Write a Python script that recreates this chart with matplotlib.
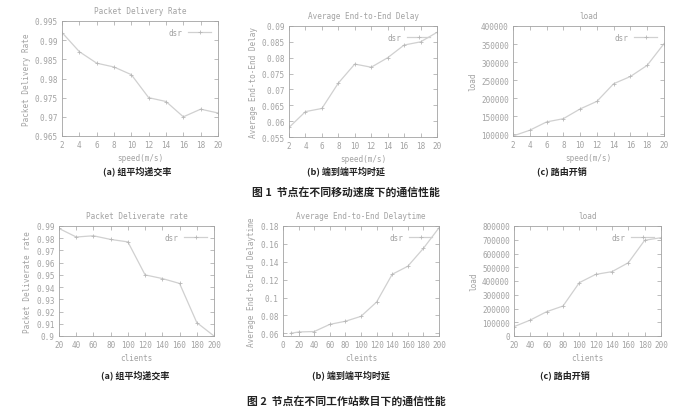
import matplotlib
matplotlib.use("Agg")
from matplotlib import pyplot as plt
from matplotlib.ticker import FuncFormatter, MultipleLocator

# figure 1: node speed
speed = [2, 4, 6, 8, 10, 12, 14, 16, 18, 20]
pdr_speed = [0.992, 0.987, 0.984, 0.983, 0.981, 0.975, 0.974, 0.970, 0.972, 0.971]
delay_speed = [0.058, 0.063, 0.064, 0.072, 0.078, 0.077, 0.080, 0.084, 0.085, 0.088]
load_speed = [95000, 111000, 134000, 143000, 170000, 191000, 240000, 260000, 291000, 351000]

# figure 2: number of clients
clients = [20, 40, 60, 80, 100, 120, 140, 160, 180, 200]
pdr_clients = [0.988, 0.981, 0.982, 0.979, 0.977, 0.950, 0.947, 0.943, 0.911, 0.900]
delay_clients_x = [10, 20, 40, 60, 80, 100, 120, 140, 160, 180, 200]
delay_clients = [0.060, 0.0615, 0.062, 0.070, 0.0735, 0.079, 0.095, 0.126, 0.135, 0.155, 0.178]
load_clients = [68000, 116000, 177000, 218000, 388000, 448000, 468000, 533000, 696000, 715000]

sub_captions = ["(a) 组平均递交率", "(b) 端到端平均时延", "(c) 路由开销"]
fig_captions = ["图 1  节点在不同移动速度下的通信性能", "图 2  节点在不同工作站数目下的通信性能"]

W, H = 697, 410
GRAY = "#a2a2a2"
LINE = "#d0d0d0"
MONO = "DejaVu Sans Mono"

fig = plt.figure(figsize=(W / 100, H / 100), dpi=100)


def make_axes(x0, y0, x1, y1):
    return fig.add_axes([x0 / W, 1 - y1 / H, (x1 - x0) / W, (y1 - y0) / H])


def style(ax, title, xlabel, ylabel, fmt):
    for s in ax.spines.values():
        s.set_color(GRAY)
        s.set_linewidth(0.6)
    ax.tick_params(direction="in", top=True, right=True, length=3, width=0.5,
                   color=GRAY, labelcolor=GRAY, labelsize=5.5, pad=3)
    for lab in ax.get_xticklabels() + ax.get_yticklabels():
        lab.set_family(MONO)
    ax.yaxis.set_major_formatter(FuncFormatter(fmt))
    ax.set_title(title, fontsize=5.5, color=GRAY, family=MONO, pad=6)
    ax.set_xlabel(xlabel, fontsize=5.5, color=GRAY, family=MONO, labelpad=3)
    ax.set_ylabel(ylabel, fontsize=5.5, color=GRAY, family=MONO, labelpad=3)
    leg = ax.legend(loc="upper right", frameon=False, markerfirst=False,
                    handlelength=3, fontsize=5.5, borderaxespad=0.5)
    for t in leg.get_texts():
        t.set_color(GRAY)
        t.set_family(MONO)


g_fmt = lambda v, p: "%g" % round(v, 4)
i_fmt = lambda v, p: "%d" % round(v)

plot_kw = dict(color=LINE, lw=0.9, marker="+", ms=3, mew=0.6, mec="#b8b8b8", label="dsr")

# row 1
ax = make_axes(62, 22, 218, 137)
ax.plot(speed, pdr_speed, **plot_kw)
ax.set_xlim(2, 20); ax.set_ylim(0.965, 0.995)
ax.xaxis.set_major_locator(MultipleLocator(2)); ax.yaxis.set_major_locator(MultipleLocator(0.005))
style(ax, "Packet Delivery Rate", "speed(m/s)", "Packet Delivery Rate", g_fmt)

ax = make_axes(289, 27, 437, 138)
ax.plot(speed, delay_speed, **plot_kw)
ax.set_xlim(2, 20); ax.set_ylim(0.055, 0.09)
ax.xaxis.set_major_locator(MultipleLocator(2)); ax.yaxis.set_major_locator(MultipleLocator(0.005))
style(ax, "Average End-to-End Delay", "speed(m/s)", "Average End-to-End Delay", g_fmt)

ax = make_axes(513, 27, 664, 137)
ax.plot(speed, load_speed, **plot_kw)
ax.set_xlim(2, 20); ax.set_ylim(95000, 400000)
ax.xaxis.set_major_locator(MultipleLocator(2)); ax.yaxis.set_major_locator(MultipleLocator(50000))
style(ax, "load", "speed(m/s)", "load", i_fmt)

# row 2
ax = make_axes(59, 227, 214, 337)
ax.plot(clients, pdr_clients, **plot_kw)
ax.set_xlim(20, 200); ax.set_ylim(0.9, 0.99)
ax.xaxis.set_major_locator(MultipleLocator(20)); ax.yaxis.set_major_locator(MultipleLocator(0.01))
style(ax, "Packet Deliverate rate", "clients", "Packet Deliverate rate", g_fmt)

ax = make_axes(283, 227, 439, 337)
ax.plot(delay_clients_x, delay_clients, **plot_kw)
ax.set_xlim(0, 200); ax.set_ylim(0.057, 0.18)
ax.xaxis.set_major_locator(MultipleLocator(20)); ax.yaxis.set_major_locator(MultipleLocator(0.02))
style(ax, "Average End-to-End Delaytime", "cleints", "Average End-to-End Delaytime", g_fmt)

ax = make_axes(514, 227, 661, 337)
ax.plot(clients, load_clients, **plot_kw)
ax.set_xlim(20, 200); ax.set_ylim(0, 800000)
ax.xaxis.set_major_locator(MultipleLocator(20)); ax.yaxis.set_major_locator(MultipleLocator(100000))
style(ax, "load", "clients", "load", i_fmt)

# captions
cjk = ["Noto Sans CJK SC", "DejaVu Sans"]
for cx, cy, txt in [(137, 171, sub_captions[0]), (346, 171, sub_captions[1]), (562, 171, sub_captions[2]),
                    (135, 375, sub_captions[0]), (351, 375, sub_captions[1]), (565, 375, sub_captions[2])]:
    fig.text(cx / W, 1 - cy / H, txt, ha="center", va="center", fontsize=6.5,
             family=cjk, weight="bold", color="#222222")
for cy, txt in [(192, fig_captions[0]), (401, fig_captions[1])]:
    fig.text(346 / W, 1 - cy / H, txt, ha="center", va="center", fontsize=7.8,
             family=cjk, weight="bold", color="#222222")

plt.savefig("out.png", dpi=100)
plt.close()
